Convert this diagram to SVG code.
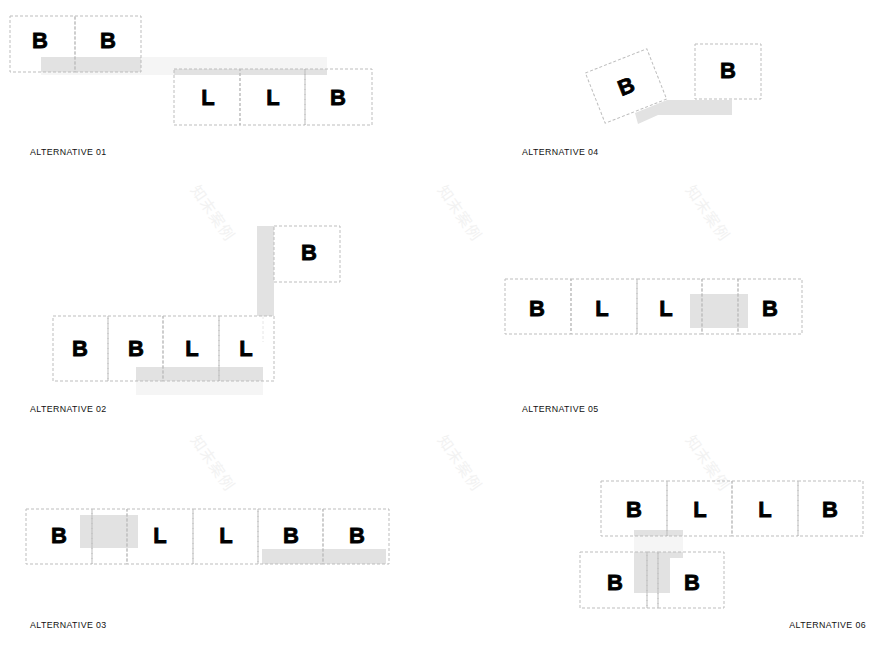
<svg xmlns="http://www.w3.org/2000/svg" width="880" height="646" viewBox="0 0 880 646">
<style>
.bx{fill:none;stroke:#bdbdbd;stroke-width:1;stroke-dasharray:3 2}
.g{fill:#e2e2e2}
.gl{fill:#f5f5f5}
.t{font-family:"Liberation Sans",Arial,sans-serif;font-weight:bold;font-size:22px;fill:#000;stroke:#000;stroke-width:0.8px;text-anchor:middle}
.lb{font-family:"Liberation Sans",Arial,sans-serif;font-size:8.8px;letter-spacing:0.4px;fill:#111}
.wm{font-family:"Noto Sans CJK SC",sans-serif;font-size:15px;fill:#f2f2f2;letter-spacing:1px}
</style>
<rect width="880" height="646" fill="#fff"/>
<g id="watermarks">
<text class="wm" transform="translate(190,190) rotate(55)">知末案例</text>
<text class="wm" transform="translate(437,190) rotate(55)">知末案例</text>
<text class="wm" transform="translate(685,190) rotate(55)">知末案例</text>
<text class="wm" transform="translate(190,440) rotate(55)">知末案例</text>
<text class="wm" transform="translate(437,440) rotate(55)">知末案例</text>
<text class="wm" transform="translate(685,440) rotate(55)">知末案例</text>
</g>
<g id="alt01">
<rect class="gl" x="41" y="57" width="286" height="18"/>
<rect class="g" x="41" y="57" width="100" height="15"/>
<rect class="g" x="174" y="69" width="153" height="6"/>
<rect class="bx" x="10" y="16" width="65" height="56"/>
<rect class="bx" x="75" y="16" width="66" height="56"/>
<rect class="bx" x="174" y="69" width="66" height="56"/>
<rect class="bx" x="240" y="69" width="65" height="56"/>
<rect class="bx" x="305" y="69" width="67" height="56"/>
<text class="t" x="40" y="48">B</text>
<text class="t" x="108" y="48">B</text>
<text class="t" x="208" y="105">L</text>
<text class="t" x="273" y="105">L</text>
<text class="t" x="338" y="105">B</text>
<text class="lb" x="30" y="155">ALTERNATIVE 01</text>
</g>
<g id="alt04">
<polygon class="g" points="635,113 667,100 732,100 732,115 658,115 638,124"/>
<g transform="translate(626,86) rotate(-21.5)">
<rect x="-33" y="-27" width="66" height="54" fill="#fff" stroke="#bdbdbd" stroke-dasharray="3 2"/>
<text class="t" x="0" y="8">B</text>
</g>
<rect class="bx" x="695" y="44" width="66" height="55"/>
<text class="t" x="728" y="78">B</text>
<text class="lb" x="522" y="155">ALTERNATIVE 04</text>
</g>
<g id="alt02">
<rect class="g" x="257" y="226" width="17" height="90"/>
<rect class="gl" x="136" y="381" width="127" height="14"/>
<rect class="g" x="136" y="367" width="127" height="14"/>
<rect class="bx" x="274" y="226" width="66" height="56"/>
<rect class="bx" x="53" y="316" width="55" height="65"/>
<rect class="bx" x="108" y="316" width="55" height="65"/>
<rect class="bx" x="163" y="316" width="56" height="65"/>
<rect class="bx" x="219" y="316" width="55" height="65"/>
<line x1="263" y1="316" x2="263" y2="342" stroke="#e6e6e6" stroke-dasharray="3 2"/>
<text class="t" x="309" y="260">B</text>
<text class="t" x="80" y="356">B</text>
<text class="t" x="136" y="356">B</text>
<text class="t" x="192" y="356">L</text>
<text class="t" x="246" y="356">L</text>
<text class="lb" x="30" y="412">ALTERNATIVE 02</text>
</g>
<g id="alt05">
<rect class="g" x="690" y="294" width="58" height="34"/>
<rect class="bx" x="505" y="279" width="66" height="55"/>
<rect class="bx" x="571" y="279" width="66" height="55"/>
<rect class="bx" x="637" y="279" width="65" height="55"/>
<rect class="bx" x="702" y="279" width="36" height="55"/>
<rect class="bx" x="738" y="279" width="64" height="55"/>
<text class="t" x="537" y="316">B</text>
<text class="t" x="602" y="316">L</text>
<text class="t" x="666" y="316">L</text>
<text class="t" x="770" y="316">B</text>
<text class="lb" x="522" y="412">ALTERNATIVE 05</text>
</g>
<g id="alt03">
<rect class="g" x="80" y="515" width="58" height="33"/>
<rect class="g" x="262" y="549" width="124" height="15"/>
<rect class="bx" x="26" y="509" width="66" height="55"/>
<rect class="bx" x="92" y="509" width="35" height="55"/>
<rect class="bx" x="127" y="509" width="66" height="55"/>
<rect class="bx" x="193" y="509" width="65" height="55"/>
<rect class="bx" x="258" y="509" width="65" height="55"/>
<rect class="bx" x="323" y="509" width="66" height="55"/>
<text class="t" x="59" y="543">B</text>
<text class="t" x="160" y="543">L</text>
<text class="t" x="226" y="543">L</text>
<text class="t" x="291" y="543">B</text>
<text class="t" x="357" y="543">B</text>
<text class="lb" x="30" y="628">ALTERNATIVE 03</text>
</g>
<g id="alt06">
<rect class="gl" x="634" y="536" width="49" height="16"/>
<rect class="g" x="634" y="530" width="49" height="6"/>
<rect class="g" x="634" y="552" width="36" height="41"/>
<rect class="g" x="670" y="552" width="13" height="6"/>
<rect class="bx" x="601" y="481" width="66" height="55"/>
<rect class="bx" x="667" y="481" width="65" height="55"/>
<rect class="bx" x="732" y="481" width="66" height="55"/>
<rect class="bx" x="798" y="481" width="65" height="55"/>
<rect class="bx" x="580" y="552" width="67" height="56"/>
<rect class="bx" x="647" y="552" width="11" height="56"/>
<rect class="bx" x="658" y="552" width="66" height="56"/>
<text class="t" x="634" y="517">B</text>
<text class="t" x="700" y="517">L</text>
<text class="t" x="765" y="517">L</text>
<text class="t" x="830" y="517">B</text>
<text class="t" x="615" y="590">B</text>
<text class="t" x="692" y="590">B</text>
<text class="lb" x="866" y="628" text-anchor="end">ALTERNATIVE 06</text>
</g>
</svg>
